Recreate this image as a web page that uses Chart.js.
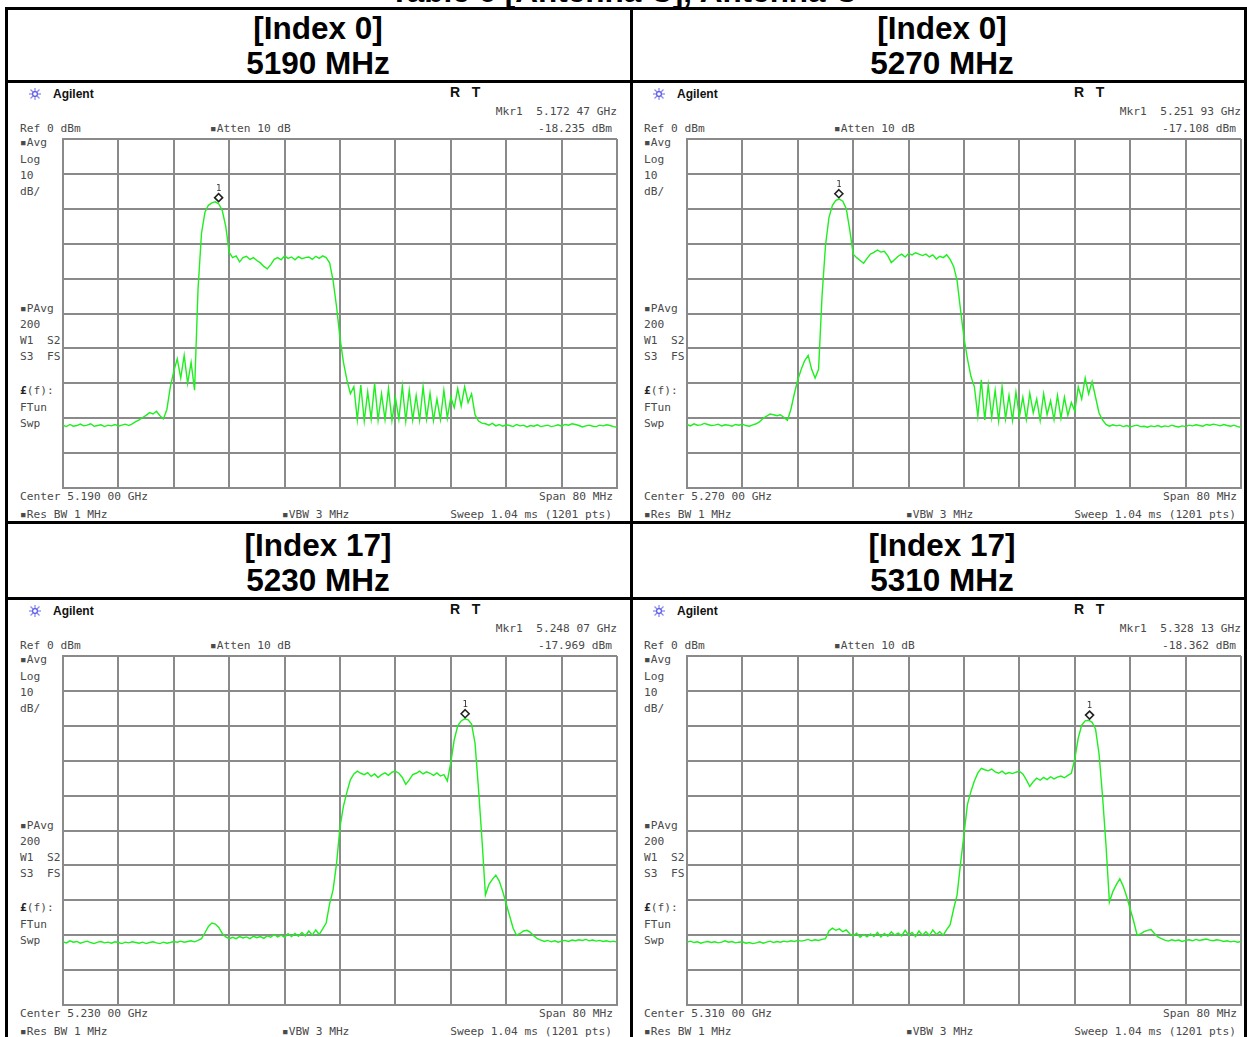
<!DOCTYPE html>
<html>
<head>
<meta charset="utf-8">
<script src="https://cdn.jsdelivr.net/npm/chart.js@4.4.1/dist/chart.umd.min.js"></script>
<style>
  body { margin: 0; width: 1247px; height: 1037px; overflow: hidden; position: relative; background: #fff; font-family: 'Liberation Sans', Arial, sans-serif; }
  .ln { position: absolute; background: #000; }
  .hd { position: absolute; font-weight: bold; font-size: 31.5px; color: #000; white-space: pre; transform: translate(-50%, -50%); line-height: 34px; }
  .t { position: absolute; white-space: pre; font-family: 'DejaVu Sans Mono', monospace; font-size: 11.2px; color: #4a4a4a; line-height: 14px; transform: translateY(-50%); }
  .t.r { transform: translate(-100%, -50%); }
  .t b { color: #222; }
  .brand { position: absolute; font-weight: bold; font-size: 12px; color: #111; transform: translateY(-50%); }
  .rt { position: absolute; font-weight: bold; font-size: 14px; color: #111; white-space: pre; transform: translateY(-50%); }
  .top { position: absolute; left: 0; width: 1247px; text-align: center; top: -27px; font-weight: bold; font-size: 31.5px; }
  canvas { position: absolute; }
</style>
</head>
<body>
<div class="top">Table 6 [Antenna C], Antenna C</div>
<script>
// analyzer sweep: 80 MHz span, one reading every 0.5 MHz, levels in dBm
const spanMHz = 80;
const sweepStep = 0.5;
const refLevel = 0;
const bottomLevel = -100;

const panelIndex = ['[Index 0]', '[Index 0]', '[Index 17]', '[Index 17]'];
const panelFreq = ['5190 MHz', '5270 MHz', '5230 MHz', '5310 MHz'];
const centerText = ['5.190 00 GHz', '5.270 00 GHz', '5.230 00 GHz', '5.310 00 GHz'];
const startFreq = [5150, 5230, 5190, 5270];
const markerFreq = [5172.47, 5251.93, 5248.07, 5328.13];
const markerLevel = [-18.235, -17.108, -17.969, -18.362];
const markerFreqText = ['5.172 47 GHz', '5.251 93 GHz', '5.248 07 GHz', '5.328 13 GHz'];
const markerLevelText = ['-18.235 dBm', '-17.108 dBm', '-17.969 dBm', '-18.362 dBm'];

const levels5190 = [
  -82.0,-82.4,-81.8,-82.3,-82.1,-81.7,-82.2,-82.0,-81.6,-82.3,
  -82.1,-81.9,-82.4,-82.0,-82.2,-81.8,-82.3,-82.0,-81.7,-82.1,
  -81.6,-81.0,-80.5,-79.8,-79.2,-78.4,-78.8,-78.0,-79.3,-80.2,
  -77.5,-71.0,-66.5,-63.0,-68.5,-62.0,-70.0,-64.0,-72.0,-43.0,
  -27.0,-21.0,-19.0,-18.3,-18.0,-18.6,-20.5,-25.0,-32.5,-34.0,
  -33.5,-35.2,-34.0,-33.6,-34.5,-34.0,-34.8,-35.5,-36.5,-37.2,
  -36.0,-34.5,-34.0,-34.6,-33.5,-34.2,-33.8,-34.6,-33.7,-34.3,
  -34.0,-33.8,-34.5,-33.6,-34.2,-33.5,-34.0,-35.5,-40.5,-48.0,
  -57.0,-64.0,-69.0,-73.0,-71.0,-80.5,-70.5,-80.8,-72.5,-80.2,
  -70.0,-80.6,-73.0,-80.4,-71.5,-80.7,-74.0,-80.3,-70.8,-80.8,
  -72.0,-80.5,-73.5,-80.6,-71.0,-80.2,-72.8,-80.7,-74.5,-80.4,
  -72.0,-80.0,-74.0,-77.0,-71.5,-76.5,-71.0,-75.5,-73.0,-79.0,
  -80.8,-81.4,-81.6,-82.0,-81.5,-82.2,-81.8,-82.3,-81.9,-82.1,
  -82.4,-81.8,-82.2,-82.0,-82.5,-82.1,-82.3,-81.9,-82.4,-82.2,
  -82.0,-82.4,-82.2,-81.9,-82.3,-81.8,-82.0,-81.6,-81.8,-82.1,
  -82.5,-82.2,-82.0,-82.3,-82.4,-82.0,-82.2,-81.9,-82.1,-82.4,
  -82.6
];

const levels5270 = [
  -81.8,-82.2,-81.6,-82.0,-81.9,-81.5,-81.8,-82.1,-82.0,-81.7,
  -82.2,-81.9,-82.0,-82.3,-81.8,-82.0,-81.7,-82.1,-82.3,-81.9,
  -81.6,-81.0,-80.0,-79.4,-78.8,-79.0,-79.3,-79.0,-79.8,-80.6,
  -77.5,-73.0,-69.0,-66.0,-63.5,-62.0,-66.0,-68.5,-66.0,-45.0,
  -30.5,-22.5,-19.0,-17.6,-17.2,-17.8,-20.0,-26.0,-33.0,-34.0,
  -34.8,-35.6,-34.2,-33.0,-32.5,-31.8,-32.4,-32.2,-33.5,-35.4,
  -34.5,-33.6,-33.0,-33.8,-32.8,-33.2,-32.6,-33.0,-33.4,-33.0,
  -33.8,-33.2,-34.4,-33.6,-34.0,-33.2,-34.5,-36.5,-40.5,-49.0,
  -57.0,-63.0,-68.0,-71.0,-79.5,-69.0,-80.5,-70.5,-79.8,-72.0,
  -80.8,-71.0,-80.2,-73.5,-80.6,-72.5,-79.6,-74.0,-80.3,-72.8,
  -78.5,-74.5,-80.7,-73.0,-79.0,-75.0,-80.4,-73.5,-80.0,-74.0,
  -79.2,-75.5,-78.0,-71.0,-74.5,-68.5,-73.0,-69.5,-74.0,-78.5,
  -80.5,-81.8,-82.3,-81.9,-82.2,-82.0,-82.4,-82.1,-82.5,-82.2,
  -82.0,-82.4,-82.3,-82.6,-82.2,-82.4,-82.1,-82.5,-82.2,-82.4,
  -82.0,-82.3,-82.5,-82.2,-82.4,-82.0,-82.2,-81.9,-82.1,-82.3,
  -81.8,-82.0,-81.7,-81.9,-82.2,-81.8,-82.1,-82.3,-82.0,-82.4,
  -82.6
];

const levels5230 = [
  -81.9,-82.2,-81.6,-82.0,-81.8,-82.3,-82.0,-81.7,-82.1,-82.4,
  -82.0,-81.8,-82.2,-82.0,-82.3,-81.9,-82.1,-82.4,-82.0,-82.2,
  -81.9,-82.1,-82.3,-82.0,-82.4,-82.1,-81.9,-82.2,-82.4,-82.0,
  -82.3,-82.1,-81.8,-82.0,-81.7,-82.0,-81.8,-81.6,-81.9,-81.5,
  -81.0,-79.3,-77.5,-76.5,-76.8,-77.8,-79.5,-80.5,-81.0,-80.6,
  -81.0,-80.4,-80.8,-80.5,-81.0,-80.3,-80.7,-80.4,-80.9,-80.2,
  -80.6,-79.8,-80.5,-80.0,-80.6,-79.6,-80.4,-79.5,-80.3,-79.2,
  -80.2,-78.8,-80.0,-78.5,-79.8,-78.2,-76.5,-71.0,-67.0,-59.5,
  -49.0,-43.0,-39.0,-35.5,-33.8,-33.0,-33.6,-34.0,-33.4,-34.5,
  -33.8,-34.8,-34.0,-33.5,-34.2,-33.3,-33.0,-33.6,-34.8,-36.8,
  -35.5,-34.0,-33.6,-33.0,-33.8,-33.2,-33.6,-34.2,-33.5,-34.4,
  -34.0,-35.8,-30.5,-24.0,-20.0,-18.6,-18.0,-18.3,-19.5,-25.0,
  -38.0,-52.5,-68.5,-65.5,-64.0,-62.8,-64.5,-67.5,-71.0,-74.5,
  -78.0,-80.0,-79.5,-78.8,-78.6,-79.2,-80.2,-81.0,-81.4,-81.8,
  -81.5,-81.9,-81.6,-82.0,-81.7,-81.5,-81.8,-81.4,-81.6,-81.3,
  -81.5,-81.2,-81.6,-81.4,-81.7,-81.5,-81.8,-81.6,-81.9,-81.7,
  -82.0
];

const levels5310 = [
  -82.0,-81.7,-82.1,-81.9,-82.3,-82.0,-81.8,-82.1,-81.9,-82.2,
  -82.0,-81.6,-82.0,-81.8,-82.2,-82.0,-81.9,-82.3,-82.1,-82.4,
  -82.2,-81.9,-82.3,-82.0,-81.7,-82.1,-81.8,-82.0,-81.7,-81.9,
  -81.6,-81.8,-81.5,-81.7,-81.5,-81.2,-81.6,-81.3,-81.5,-81.2,
  -81.0,-78.8,-78.0,-78.6,-78.2,-79.0,-78.5,-79.6,-80.2,-79.4,
  -80.6,-79.8,-80.5,-79.6,-80.4,-79.2,-80.5,-79.5,-80.3,-79.0,
  -80.0,-79.4,-80.2,-78.6,-80.0,-79.2,-80.4,-78.8,-80.0,-79.0,
  -80.1,-78.5,-79.8,-79.0,-80.0,-78.4,-77.0,-72.5,-68.5,-59.5,
  -51.0,-42.5,-38.8,-35.8,-33.5,-32.2,-32.6,-32.9,-32.4,-33.2,
  -33.6,-33.0,-33.8,-33.4,-33.7,-33.3,-33.0,-33.8,-35.5,-37.4,
  -36.0,-35.0,-35.6,-34.8,-35.4,-34.6,-35.2,-34.7,-34.4,-34.9,
  -34.2,-33.6,-29.5,-23.5,-19.8,-18.6,-18.4,-19.0,-21.0,-28.0,
  -40.0,-54.0,-70.5,-67.5,-65.5,-63.8,-66.0,-69.0,-72.5,-76.0,
  -80.0,-79.6,-79.0,-78.6,-78.4,-79.5,-80.5,-81.0,-81.4,-81.7,
  -81.3,-81.6,-81.4,-81.8,-81.5,-81.3,-81.6,-81.2,-81.5,-81.3,
  -81.1,-81.4,-81.6,-81.3,-81.5,-81.8,-81.6,-81.9,-81.7,-82.0,
  -81.8
];

const panelLevels = [levels5190, levels5270, levels5230, levels5310];

// table lines
const lines = [
  [5, 7, 1242, 3], [5, 7, 3, 1030], [630, 7, 3, 1030], [1244, 7, 3, 1030],
  [5, 80, 1242, 3], [5, 521, 1242, 3], [5, 597, 1242, 3]
];
lines.forEach(([l, t, w, h]) => {
  const d = document.createElement('div');
  d.className = 'ln';
  d.style.cssText = `left:${l}px;top:${t}px;width:${w}px;height:${h}px`;
  document.body.appendChild(d);
});

function put(cls, x, y, text) {
  const d = document.createElement('div');
  d.className = cls;
  d.style.left = x + 'px';
  d.style.top = y + 'px';
  d.textContent = text;
  document.body.appendChild(d);
  return d;
}

const gridColor = '#8a8a8a';
const traceColor = '#1eef1e';

const markerPlugin = {
  id: 'mkr',
  afterDatasetsDraw(chart, args, opts) {
    const { ctx, scales } = chart;
    const x = scales.x.getPixelForValue(opts.freq);
    const y = scales.y.getPixelForValue(opts.level) - 5;
    ctx.save();
    ctx.beginPath();
    ctx.moveTo(x, y - 4); ctx.lineTo(x + 4, y); ctx.lineTo(x, y + 4); ctx.lineTo(x - 4, y); ctx.closePath();
    ctx.fillStyle = '#fff';
    ctx.fill();
    ctx.lineWidth = 1.6;
    ctx.strokeStyle = '#222';
    ctx.stroke();
    ctx.fillStyle = '#333';
    ctx.font = '9px "DejaVu Sans Mono"';
    ctx.textAlign = 'center';
    ctx.textBaseline = 'middle';
    ctx.fillText('1', x, y - 9);
    ctx.restore();
  }
};

function icon(x, y) {
  const s = document.createElementNS('http://www.w3.org/2000/svg', 'svg');
  s.setAttribute('width', 14); s.setAttribute('height', 14);
  s.style.cssText = `position:absolute;left:${x - 7}px;top:${y - 7}px`;
  s.innerHTML = '<g stroke="#8a8af0" stroke-width="1.3"><line x1="7" y1="1" x2="7" y2="13"/><line x1="1" y1="7" x2="13" y2="7"/><line x1="2.5" y1="2.5" x2="11.5" y2="11.5"/><line x1="11.5" y1="2.5" x2="2.5" y2="11.5"/></g><circle cx="7" cy="7" r="2.4" fill="#fff" stroke="#5a5ae0" stroke-width="1.2"/>';
  document.body.appendChild(s);
}

panelLevels.forEach((levels, p) => {
  const ox = (p % 2) * 624;
  const oy = Math.floor(p / 2) * 517;

  put('hd', 318 + ox, 28 + oy, panelIndex[p]);
  put('hd', 318 + ox, 63 + oy, panelFreq[p]);

  icon(35 + ox, 94 + oy);
  put('brand', 53 + ox, 94 + oy, 'Agilent');
  put('rt', 450 + ox, 92 + oy, 'R   T');
  put('t r', 617 + ox, 112 + oy, 'Mkr1  ' + markerFreqText[p]);
  put('t', 20 + ox, 129 + oy, 'Ref 0 dBm');
  put('t', 210 + ox, 129 + oy, '\u25AAAtten 10 dB');
  put('t r', 612 + ox, 129 + oy, markerLevelText[p]);

  const side = [[143, '\u25AAAvg'], [160, 'Log'], [176, '10'], [192, 'dB/'],
                [309, '\u25AAPAvg'], [325, '200'], [341, 'W1  S2'], [357, 'S3  FS'],
                [408, 'FTun'], [424, 'Swp']];
  side.forEach(([y, s]) => put('t', 20 + ox, y + oy, s));
  put('t', 20 + ox, 391 + oy, '(f):').insertAdjacentHTML('afterbegin', '<b>\u00A3</b>');

  put('t', 20 + ox, 497 + oy, 'Center ' + centerText[p]);
  put('t r', 613 + ox, 497 + oy, 'Span 80 MHz');
  put('t', 20 + ox, 515 + oy, '\u25AARes BW 1 MHz');
  put('t', 282 + ox, 515 + oy, '\u25AAVBW 3 MHz');
  put('t r', 612 + ox, 515 + oy, 'Sweep 1.04 ms (1201 pts)');

  const cv = document.createElement('canvas');
  cv.width = 562; cv.height = 357;
  cv.style.left = (59 + ox) + 'px';
  cv.style.top = (135 + oy) + 'px';
  document.body.appendChild(cv);

  const f0 = startFreq[p];
  new Chart(cv, {
    type: 'line',
    data: {
      datasets: [{
        data: levels.map((v, i) => ({ x: f0 + i * sweepStep, y: v })),
        borderColor: traceColor,
        borderWidth: 1.4,
        pointRadius: 0,
        tension: 0
      }]
    },
    options: {
      responsive: false,
      animation: false,
      events: [],
      layout: { padding: 4 },
      plugins: {
        legend: { display: false },
        tooltip: { enabled: false },
        mkr: { freq: markerFreq[p], level: markerLevel[p] }
      },
      scales: {
        x: {
          type: 'linear', min: f0, max: f0 + spanMHz,
          ticks: { display: false, stepSize: 8 },
          grid: { color: gridColor, lineWidth: 2, drawTicks: false },
          border: { color: gridColor, width: 2 }
        },
        y: {
          min: bottomLevel, max: refLevel,
          ticks: { display: false, stepSize: 10 },
          grid: { color: gridColor, lineWidth: 2, drawTicks: false },
          border: { color: gridColor, width: 2 }
        }
      }
    },
    plugins: [markerPlugin]
  });
});
</script>
</body>
</html>
